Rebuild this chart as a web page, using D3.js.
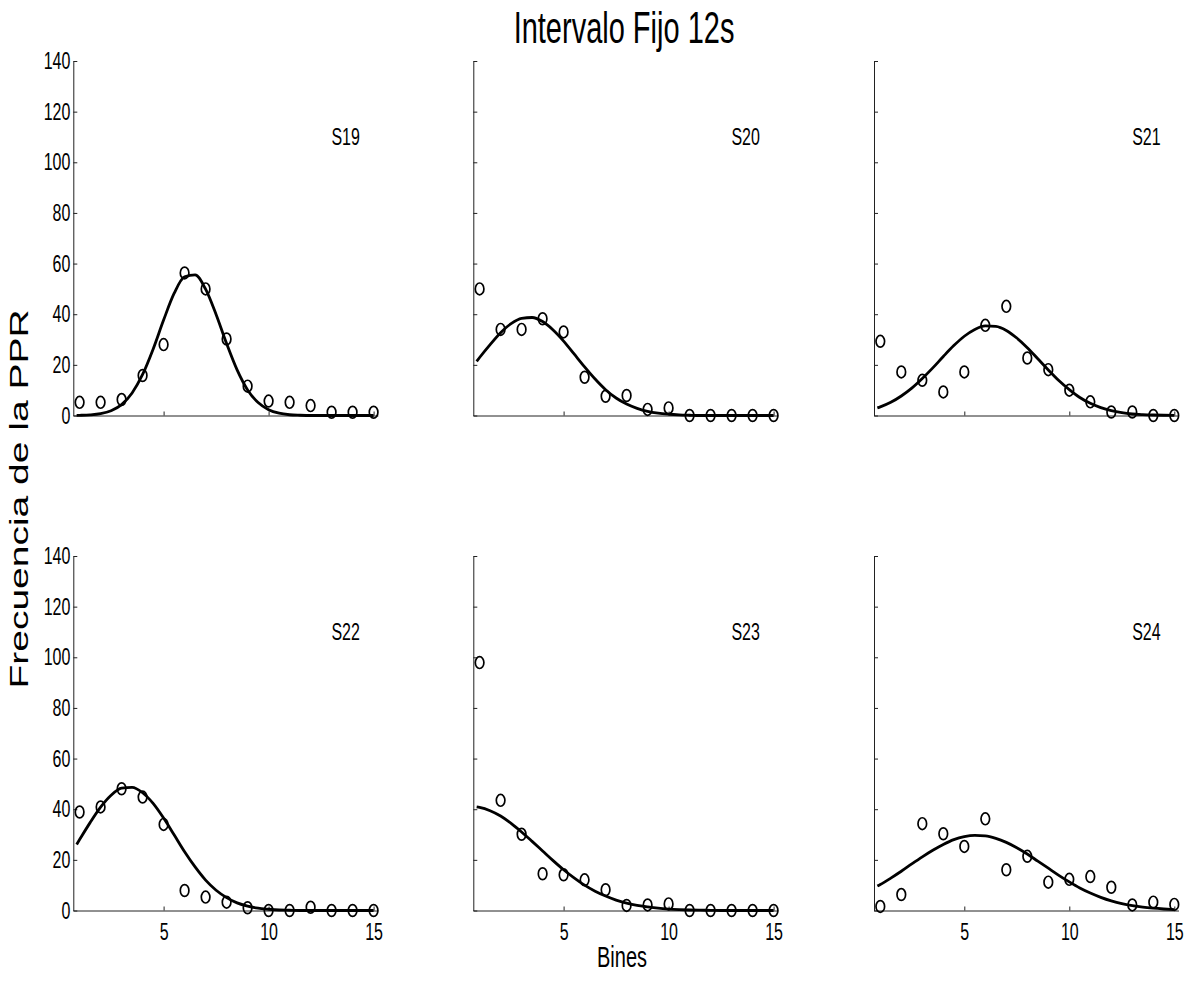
<!DOCTYPE html>
<html>
<head>
<meta charset="utf-8">
<script src="https://cdn.jsdelivr.net/npm/d3@7"></script>
<style>
  body { margin: 0; background: #fff; }
  text { font-family: "Liberation Sans", Arial, sans-serif; fill: #000; }
</style>
</head>
<body>
<div id="chart"></div>
<script>
/////////////////////////////////////////////////
/* Data */
/////////////////////////////////////////////////
const subjects = ["S19", "S20", "S21", "S22", "S23", "S24"];
const bins = [1, 2, 3, 4, 5, 6, 7, 8, 9, 10, 11, 12, 13, 14, 15];
const yTicks = [0, 20, 40, 60, 80, 100, 120, 140];
const xTicks = [5, 10, 15];

// observed frequency per bin
const obsS19 = [5.2, 5.2, 6.3, 15.8, 28, 56.3, 50, 30.2, 11.6, 5.7, 5.2, 3.9, 1.3, 1.3, 1.3];
const obsS20 = [50, 34, 34, 38.2, 33, 15.1, 7.6, 7.9, 2.4, 3.0, 0, 0, 0, 0, 0];
const obsS21 = [29.3, 17.2, 13.9, 9.3, 17.2, 35.6, 43.1, 22.7, 18.1, 10, 5.4, 1.4, 1.4, 0, 0];
const obsS22 = [38.9, 40.9, 48.1, 44.8, 34, 7.9, 5.3, 3.3, 1.1, 0, 0, 1.3, 0, 0, 0];
const obsS23 = [97.9, 43.5, 30.1, 14.5, 14.1, 12.1, 8.2, 2.0, 2.2, 2.6, 0, 0, 0, 0, 0];
const obsS24 = [1.6, 6.3, 34.3, 30.3, 25.3, 36.2, 16.1, 21.4, 11.2, 12.3, 13.4, 9.2, 2.2, 3.3, 2.4];

// fitted curve at these x positions
const fitX = [0.86, 1, 1.5, 2, 2.5, 3, 3.5, 4, 4.5, 5, 5.5, 6, 6.5, 7, 7.5, 8,
              8.5, 9, 9.5, 10, 10.5, 11, 11.5, 12, 12.5, 13, 13.5, 14, 14.5, 15];
const fitS19 = [0.05, 0.08, 0.25, 0.73, 1.9, 4.3, 8.9, 16.2, 26.2, 37.7, 48.2, 54.8, 55.5, 49.9, 39.9,
                28.4, 18.0, 10.1, 5.1, 2.3, 0.9, 0.3, 0.1, 0, 0, 0, 0, 0, 0, 0];
const fitS20 = [21.4, 22.9, 28.0, 32.7, 36.3, 38.4, 38.7, 37.1, 33.8, 29.4, 24.3, 19.2, 14.4, 10.2, 6.9,
                4.5, 2.8, 1.6, 0.9, 0.5, 0.24, 0.1, 0, 0, 0, 0, 0, 0, 0, 0];
const fitS21 = [3.0, 3.4, 5.2, 7.7, 10.8, 14.6, 18.8, 23.3, 27.6, 31.3, 34.0, 35.4, 35.2, 33.6, 30.6,
                26.8, 22.4, 18.0, 13.8, 10.2, 7.1, 4.8, 3.1, 1.9, 1.1, 0.6, 0.35, 0.2, 0.1, 0.05];
const fitS22 = [26.1, 28.0, 34.7, 40.8, 45.5, 48.3, 48.6, 46.5, 42.3, 36.5, 29.9, 23.2, 17.2, 12.0, 8.0,
                5.1, 3.0, 1.7, 0.9, 0.5, 0.2, 0.1, 0, 0, 0, 0, 0, 0, 0, 0];
const fitS23 = [40.9, 40.7, 39.4, 37.3, 34.4, 31.0, 27.3, 23.5, 19.7, 16.1, 12.9, 10.0, 7.6, 5.7, 4.1,
                2.9, 2.0, 1.4, 0.9, 0.57, 0.35, 0.2, 0.12, 0.07, 0, 0, 0, 0, 0, 0];
const fitS24 = [9.7, 10.3, 12.8, 15.5, 18.4, 21.2, 23.8, 26.1, 28.0, 29.2, 29.7, 29.5, 28.5, 26.9, 24.8,
                22.3, 19.5, 16.7, 13.9, 11.3, 8.9, 6.9, 5.2, 3.8, 2.7, 1.9, 1.3, 0.9, 0.6, 0.36];

const observed = [obsS19, obsS20, obsS21, obsS22, obsS23, obsS24];
const fitted = [fitS19, fitS20, fitS21, fitS22, fitS23, fitS24];

/////////////////////////////////////////////////
/* Layout */
/////////////////////////////////////////////////
const W = 1190, H = 981;
const colLeft = [73.3, 473.3, 874];
const rowTop = [61, 556];
const panelW = 304.5, panelH = 354.5;
const xDomain = [0.7, 15.2];
const yDomain = [0, 140];
const STRETCH = 1.5; // text in the original is stretched vertically

var svg = d3.select("#chart").append("svg")
    .attr("width", W)
    .attr("height", H);

// title
svg.append("text")
    .attr("transform", `translate(624,43) scale(1,${STRETCH})`)
    .attr("text-anchor", "middle")
    .style("font-size", "29px")
    .text("Intervalo Fijo 12s");

// x label
svg.append("text")
    .attr("transform", `translate(622,967) scale(1,${STRETCH})`)
    .attr("text-anchor", "middle")
    .style("font-size", "20px")
    .text("Bines");

// y label
svg.append("text")
    .attr("transform", `translate(28,499) rotate(-90) scale(${STRETCH},1)`)
    .attr("text-anchor", "middle")
    .style("font-size", "26px")
    .text("Frecuencia de la PPR");

/////////////////////////////////////////////////
/* Panels */
/////////////////////////////////////////////////
subjects.forEach(function(name, i) {
    let row = Math.floor(i / 3), col = i % 3;

    let x = d3.scaleLinear().domain(xDomain).range([0, panelW]);
    let y = d3.scaleLinear().domain(yDomain).range([panelH, 0]);

    let g = svg.append("g")
        .attr("transform", `translate(${colLeft[col]},${rowTop[row]})`);

    // y axis, ticks inside
    let yAxis = g.append("g")
        .call(d3.axisLeft(y).tickValues(yTicks).tickSizeInner(-4).tickSizeOuter(0).tickPadding(3)
              .tickFormat(col == 0 ? d3.format("d") : ""));

    // x axis, ticks inside
    let xAxis = g.append("g")
        .attr("transform", "translate(0," + panelH + ")")
        .call(d3.axisBottom(x).tickValues(xTicks).tickSizeInner(-4).tickSizeOuter(0).tickPadding(8)
              .tickFormat(row == 1 ? d3.format("d") : ""));

    [yAxis, xAxis].forEach(function(a) {
        a.attr("font-family", null).attr("font-size", null);
        a.select(".domain").attr("stroke", "#222").attr("stroke-width", 1);
        a.selectAll(".tick line").attr("stroke", "#222");
        a.selectAll(".tick text")
            .style("font-size", "16px")
            .attr("transform", `scale(1,${STRETCH})`);
    });

    // fitted curve
    let line = d3.line()
        .x((d, k) => x(fitX[k]))
        .y(d => y(d))
        .curve(d3.curveMonotoneX);

    g.append("path")
        .datum(fitted[i])
        .attr("d", line)
        .attr("fill", "none")
        .attr("stroke", "#000")
        .attr("stroke-width", 2.8);

    // observed points
    g.selectAll(".pt")
        .data(observed[i])
        .enter()
        .append("ellipse")
        .attr("class", "pt")
        .attr("cx", (d, k) => x(bins[k]))
        .attr("cy", d => y(d))
        .attr("rx", 4.3)
        .attr("ry", 5.9)
        .attr("fill", "none")
        .attr("stroke", "#000")
        .attr("stroke-width", 1.7);

    // subject label
    g.append("text")
        .attr("transform", `translate(${x(13.67)},${y(107)}) scale(1,${STRETCH})`)
        .attr("text-anchor", "middle")
        .style("font-size", "16px")
        .text(name);
});
</script>
</body>
</html>
